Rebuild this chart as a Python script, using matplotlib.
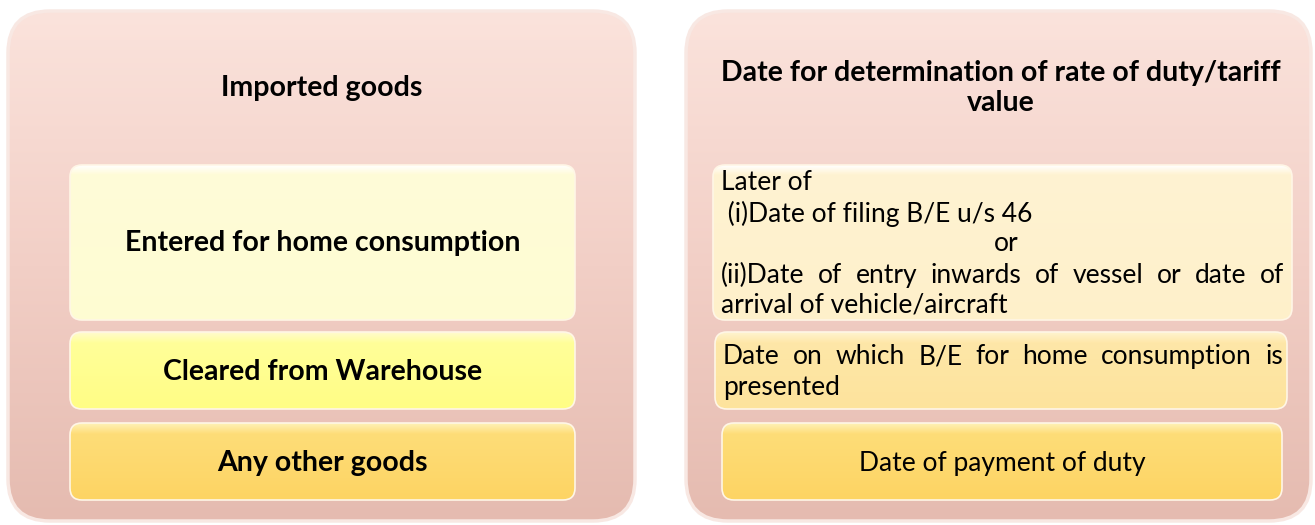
import numpy as np
import matplotlib
matplotlib.use("Agg")
import matplotlib.pyplot as plt
from matplotlib.patches import FancyBboxPatch
from matplotlib.colors import to_rgb

# ---------------- data ----------------
left_title = "Imported goods"
right_title_lines = ["Date for determination of rate of duty/tariff", "value"]
goods_categories = ["Entered for home consumption", "Cleared from Warehouse", "Any other goods"]
rate_date_lines = [
    ["Later of"],
    [" (i)Date of filing B/E u/s 46"],
    ["or"],
    ["(ii)Date of entry inwards of vessel or date of", "arrival of vehicle/aircraft"],
]
warehouse_date_lines = ["Date on which B/E for home consumption is", "presented"]
other_goods_date = "Date of payment of duty"

FONT = "Lato"
plt.rcParams["font.family"] = [FONT, "DejaVu Sans"]

W, H = 1315, 525
fig = plt.figure(figsize=(W / 100, H / 100), dpi=100)
ax = fig.add_axes([0, 0, 1, 1])
ax.set_xlim(0, W)
ax.set_ylim(H, 0)
ax.axis("off")


def grad_box(x0, y0, w, h, stops, radius, z, edge=None, lw=0):
    patch = FancyBboxPatch((x0, y0), w, h,
                           boxstyle=f"round,pad=0,rounding_size={radius}",
                           fc="none", ec="none", zorder=z)
    ax.add_patch(patch)
    n = 256
    t = np.linspace(0, 1, n)
    pos = [s[0] for s in stops]
    cols = np.array([to_rgb(s[1]) for s in stops])
    arr = np.zeros((n, 1, 3))
    for c in range(3):
        arr[:, 0, c] = np.interp(t, pos, cols[:, c])
    im = ax.imshow(arr, extent=(x0, x0 + w, y0 + h, y0), aspect="auto",
                   zorder=z, interpolation="bilinear")
    im.set_clip_path(patch)
    if edge:
        ax.add_patch(FancyBboxPatch((x0, y0), w, h,
                                    boxstyle=f"round,pad=0,rounding_size={radius}",
                                    fc="none", ec=edge, lw=lw, zorder=z + 0.5))
    return patch


# outer panels
for x0, w in ((8, 627), (686, 625)):
    grad_box(x0, 11, w, 510,
             [(0, "#fbe3dc"), (0.5, "#f2cfc6"), (1, "#e5bbb0")], 42, 1,
             edge="#f8e8e3", lw=2.5)

# inner boxes: (x0, y0, w, h, stops)
box1_stops = [(0, "#ffffff"), (0.06, "#fffbd8"), (1, "#fefdd2")]
box1r_stops = [(0, "#ffffff"), (0.06, "#fff3d2"), (1, "#fef0ca")]
box2_stops = [(0, "#fffbd0"), (0.14, "#ffff99"), (1, "#fffd85")]
box2r_stops = [(0, "#fff4d0"), (0.14, "#fee7a8"), (1, "#fde39c")]
box3_stops = [(0, "#fff2b8"), (0.14, "#fedd78"), (1, "#fdd463")]

left_boxes = [(70, 165, 505, 155, box1_stops),
              (70, 332, 505, 77, box2_stops),
              (70, 423, 505, 77, box3_stops)]
right_boxes = [(713, 165, 579, 155, box1r_stops),
               (715, 332, 572, 77, box2r_stops),
               (722, 423, 560, 77, box3_stops)]
for bx in left_boxes + right_boxes:
    grad_box(*bx[:4], bx[4], 12, 2, edge="#fff6e6", lw=1.2)

BFS = 20.5
# titles
ax.text(322, 88, left_title, ha="center", va="center", fontsize=BFS,
        fontweight="bold", color="black", zorder=5)
for i, line in enumerate(right_title_lines):
    ax.text(1001, 73 + 30 * i, line, ha="center", va="center", fontsize=BFS,
            fontweight="bold", color="black", zorder=5)

# left category labels
for (x0, y0, w, h, _), label in zip(left_boxes, goods_categories):
    ax.text(x0 + w / 2, y0 + h / 2 + 1, label, ha="center", va="center",
            fontsize=BFS, fontweight="bold", color="black", zorder=5)

fig.canvas.draw()
renderer = fig.canvas.get_renderer()


def text_width(s, fs):
    t = ax.text(0, 0, s, fontsize=fs)
    bb = t.get_window_extent(renderer)
    t.remove()
    return bb.width


def justified(line, xl, xr, y, fs):
    words = line.split(" ")
    widths = [text_width(wd, fs) for wd in words]
    gap = (xr - xl - sum(widths)) / (len(words) - 1)
    x = xl
    for wd, wdt in zip(words, widths):
        ax.text(x, y, wd, ha="left", va="baseline", fontsize=fs, zorder=5)
        x += wdt + gap


FS = 19
# right box 1
xl, xr = 721, 1284
ax.text(xl, 190, rate_date_lines[0][0], ha="left", va="baseline", fontsize=FS, zorder=5)
ax.text(xl, 222, rate_date_lines[1][0], ha="left", va="baseline", fontsize=FS, zorder=5)
ax.text((xl + xr) / 2 + 4, 251, rate_date_lines[2][0], ha="center", va="baseline", fontsize=FS, zorder=5)
justified(rate_date_lines[3][0], xl, xr, 283, FS)
ax.text(xl, 313, rate_date_lines[3][1], ha="left", va="baseline", fontsize=FS, zorder=5)

# right box 2
justified(warehouse_date_lines[0], 723, 1283, 364, FS)
ax.text(723, 395, warehouse_date_lines[1], ha="left", va="baseline", fontsize=FS, zorder=5)

# right box 3
ax.text(1002, 463, other_goods_date, ha="center", va="center", fontsize=FS, zorder=5)

ax.set_xlim(0, W)
ax.set_ylim(H, 0)
fig.savefig("out.png", dpi=100)
